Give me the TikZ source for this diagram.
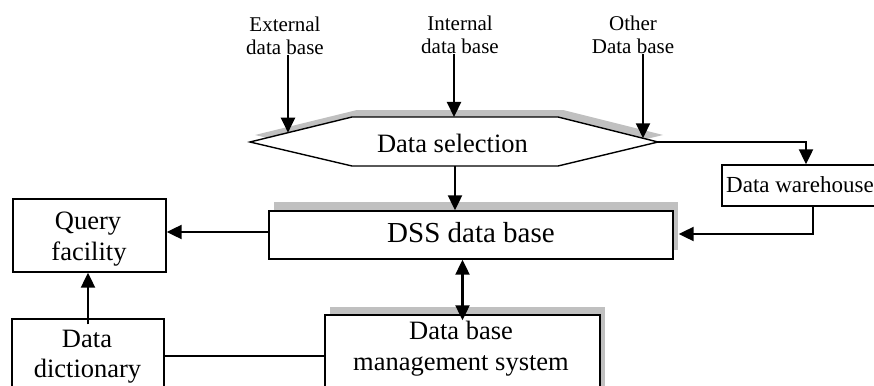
\documentclass[tikz,border=0pt]{standalone}
\usepackage{fontspec}
\setmainfont{Liberation Serif}
\usetikzlibrary{arrows.meta,shadows,calc}
\definecolor{shadowgray}{HTML}{C0C0C0}
\begin{document}
\begin{tikzpicture}[x=1pt,y=-1pt,
  box/.style={draw=black,line width=1.4pt,fill=white,inner sep=0pt,rectangle},
  shad/.style={drop shadow={shadow xshift=5pt,shadow yshift=#1,fill=shadowgray,opacity=1}},
  arr/.style={line width=2.2pt,-{Triangle[length=15pt,width=14pt]}},
  darr/.style={line width=2.2pt,{Triangle[length=15pt,width=14pt]}-{Triangle[length=15pt,width=14pt]}},
  plain/.style={line width=1.4pt},
  lbl/.style={font=\fontsize{21}{23}\selectfont,inner sep=0pt,anchor=base},
  txt/.style={font=\fontsize{26.5}{30}\selectfont,inner sep=0pt,anchor=base},
  big/.style={font=\fontsize{29}{32}\selectfont,inner sep=0pt,anchor=base},
  dwtxt/.style={font=\fontsize{23}{28}\selectfont,inner sep=0pt,anchor=base west}]
\clip (0,0) rectangle (874,385);

% hexagon (Data selection)
\coordinate (hL) at (250,142);
\coordinate (hTL) at (352,117);
\coordinate (hTR) at (558,117);
\coordinate (hR) at (658,142);
\coordinate (hBR) at (558,166);
\coordinate (hBL) at (352,166);
\fill[shadowgray] (255,135) -- (357,110) -- (563,110) -- (663,135) -- (563,159) -- (357,159) -- cycle;
\draw[line width=1.4pt,fill=white] (hL) -- (hTL) -- (hTR) -- (hR) -- (hBR) -- (hBL) -- cycle;
\node[txt] (sel) at (452.5,152) {Data selection};

% boxes
\node[box,minimum width=153pt,minimum height=73pt] (query) at (89.5,235.5) {};
\node[box,minimum width=152pt,minimum height=81pt] (dict) at (88,359.5) {};
\node[box,shad=9pt,minimum width=404pt,minimum height=48pt] (dss) at (471,235) {};
\node[box,shad=8pt,minimum width=275pt,minimum height=85pt] (dbms) at (462.5,357.5) {};
\node[box,minimum width=158pt,minimum height=41pt] (dw) at (801,185.5) {};

% texts
\node[lbl] (ext1) at (285,32) {External};
\node[lbl] (ext2) at (285,55) {data base};
\node[lbl] (int1) at (460,31) {Internal};
\node[lbl] (int2) at (460,54) {data base};
\node[lbl] (oth1) at (633,31) {Other};
\node[lbl] (oth2) at (633,54) {Data base};
\node[big] (dsst) at (471,242) {DSS data base};
\node[txt] (q1) at (88,229) {Query};
\node[txt] (q2) at (89,260) {facility};
\node[txt] (d1) at (87,347) {Data};
\node[txt] (d2) at (87.5,377) {dictionary};
\node[txt] (m1) at (461,339) {Data base};
\node[txt] (m2) at (461,370) {management system};
\node[dwtxt] (dwt) at (726,192) {Data warehouse};

% connectors
\coordinate (inExt) at ($(hL)!0.3725!(hTL)$);
\coordinate (inInt) at (454,117);
\coordinate (inOth) at ($(hTR)!0.85!(hR)$);
\draw[arr] (inExt |- ext2.base) -- (inExt);
\draw[arr] (inInt |- int2.base) -- (inInt);
\draw[arr] (inOth |- oth2.base) -- (inOth);
\coordinate (hOut) at (455,166);
\draw[arr] (hOut) -- (hOut |- dss.north);
\draw[arr] (hR) -| ([xshift=5pt]dw.north);
\draw[arr] ([xshift=12pt]dw.south) |- ([xshift=5pt,yshift=1pt]dss.east);
\draw[arr] ([yshift=3pt]dss.west) -- ([yshift=3pt]dss.west -| query.east);
\draw[darr] (dbms.north |- dss.south) -- ([yshift=-6pt]dbms.north);
\draw[arr] ([yshift=-6pt]dict.north) -- (dict.north |- query.south);
\coordinate (dl) at ([yshift=3.5pt]dict.east);
\draw[plain] (dl) -- (dl -| dbms.west);
\end{tikzpicture}
\end{document}
